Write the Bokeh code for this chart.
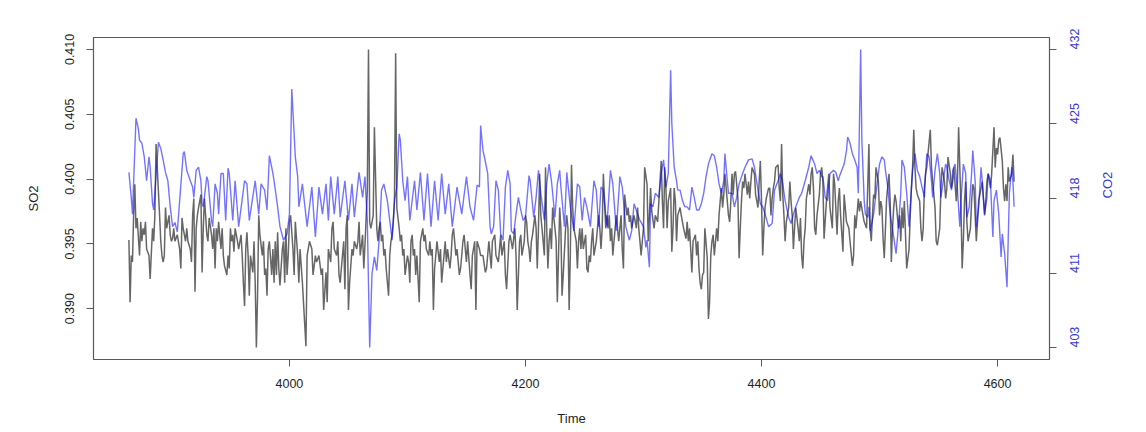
import math
import numpy as np
from bokeh.plotting import figure
from bokeh.models import Range1d, LinearAxis, FixedTicker, PrintfTickFormatter
from bokeh.embed import file_html
from bokeh.resources import INLINE

# ---- data: (time, value) ----
time_ticks = [4000, 4200, 4400, 4600]
so2_ticks = [0.390, 0.395, 0.400, 0.405, 0.410]

co2_obs = [
    (3864, 420.2), (3866, 417.8), (3867, 416.2), (3870, 425.4), (3872, 424.4), (3873, 423.3),
    (3875, 423.0), (3877, 421.7), (3879, 419.4), (3881, 421.7), (3882, 420.7), (3884, 417.2),
    (3885, 416.6), (3889, 423.1), (3891, 422.5), (3893, 421.4), (3895, 420.2), (3897, 419.4),
    (3899, 416.9), (3901, 415.0), (3903, 415.4), (3905, 414.5), (3910, 422.0), (3911, 422.2),
    (3913, 420.4), (3916, 419.4), (3918, 418.8), (3919, 417.8), (3921, 420.4), (3923, 420.7),
    (3925, 419.4), (3926, 417.2), (3927, 416.9), (3930, 419.8), (3931, 419.4), (3934, 415.6),
    (3935, 415.0), (3937, 419.1), (3939, 418.2), (3940, 416.2), (3942, 420.1), (3944, 420.1),
    (3946, 415.6), (3948, 420.6), (3949, 420.1), (3952, 415.6), (3954, 419.4), (3957, 415.0),
    (3962, 419.4), (3964, 419.1), (3966, 415.6), (3971, 419.4), (3974, 416.2), (3976, 419.1),
    (3979, 418.5), (3981, 416.6), (3983, 421.8), (3986, 420.1), (3987, 419.4), (3990, 416.9),
    (3992, 415.0), (3995, 413.7), (3998, 414.3), (4000, 416.2), (4002, 428.2), (4005, 421.7),
    (4007, 419.8), (4008, 416.9), (4011, 419.1), (4015, 415.0), (4019, 418.8), (4022, 414.0),
    (4025, 418.8), (4028, 416.2), (4031, 419.1), (4033, 415.6), (4035, 419.8), (4038, 416.2),
    (4041, 419.8), (4043, 415.9), (4047, 419.4), (4050, 415.6), (4053, 419.1), (4055, 415.9),
    (4059, 420.2), (4062, 417.8), (4064, 419.8), (4066, 415.6), (4068, 403.4), (4070, 410.5),
    (4072, 412.1), (4074, 410.8), (4076, 413.7), (4078, 418.5), (4080, 419.1), (4083, 417.5),
    (4085, 415.6), (4087, 413.7), (4089, 417.5), (4091, 418.8), (4093, 423.9), (4094, 423.3),
    (4096, 419.4), (4098, 417.5), (4100, 419.8), (4102, 415.6), (4106, 419.4), (4108, 416.6),
    (4111, 420.2), (4114, 415.6), (4117, 420.1), (4120, 415.0), (4123, 419.4), (4126, 415.6),
    (4129, 420.1), (4132, 416.2), (4135, 419.1), (4138, 415.0), (4142, 418.8), (4146, 416.2),
    (4150, 419.8), (4153, 416.9), (4156, 415.6), (4159, 419.0), (4161, 418.8), (4162, 424.7),
    (4164, 422.3), (4165, 421.8), (4168, 420.1), (4170, 415.0), (4171, 414.3), (4173, 415.0),
    (4175, 419.4), (4177, 418.5), (4179, 414.3), (4181, 413.7), (4183, 418.8), (4185, 420.4),
    (4187, 419.1), (4188, 414.6), (4190, 414.3), (4192, 416.2), (4194, 417.8), (4196, 416.6),
    (4198, 415.6), (4200, 415.9), (4203, 419.9), (4204, 419.4), (4207, 415.9), (4209, 417.8),
    (4211, 420.4), (4213, 418.2), (4216, 415.6), (4218, 419.1), (4220, 421.0), (4222, 419.4),
    (4225, 415.9), (4227, 419.1), (4229, 420.4), (4230, 418.8), (4233, 415.0), (4235, 420.2),
    (4238, 416.9), (4241, 414.6), (4244, 419.1), (4246, 418.8), (4248, 415.6), (4250, 417.8),
    (4252, 416.9), (4255, 415.0), (4258, 419.4), (4260, 418.5), (4262, 415.0), (4264, 418.8),
    (4266, 418.5), (4269, 415.0), (4272, 420.4), (4274, 419.1), (4277, 414.6), (4280, 419.8),
    (4282, 418.8), (4285, 415.0), (4288, 413.7), (4290, 414.6), (4292, 417.2), (4295, 416.2),
    (4297, 415.6), (4300, 415.0), (4302, 413.0), (4303, 413.7), (4305, 411.1), (4306, 417.2),
    (4308, 416.9), (4310, 418.2), (4313, 417.8), (4315, 420.1), (4317, 421.4), (4319, 418.8),
    (4321, 420.1), (4323, 430.0), (4324, 424.9), (4326, 420.7), (4328, 419.4), (4329, 418.5),
    (4331, 418.5), (4333, 417.5), (4335, 416.9), (4337, 416.9), (4339, 416.6), (4341, 418.8),
    (4343, 417.8), (4345, 416.6), (4347, 416.6), (4349, 417.2), (4351, 418.2), (4353, 419.8),
    (4355, 421.0), (4358, 422.0), (4360, 421.8), (4362, 420.7), (4364, 419.1), (4366, 418.2),
    (4368, 419.4), (4369, 422.0), (4371, 419.4), (4372, 418.2), (4375, 418.2), (4377, 416.9),
    (4379, 417.8), (4381, 419.1), (4384, 420.1), (4386, 420.7), (4389, 421.4), (4392, 421.5),
    (4394, 420.7), (4397, 418.5), (4399, 417.2), (4401, 416.9), (4403, 416.2), (4406, 415.0),
    (4409, 415.3), (4411, 418.5), (4414, 419.4), (4416, 420.1), (4418, 419.1), (4420, 417.5),
    (4423, 415.9), (4425, 415.3), (4427, 416.2), (4429, 416.9), (4432, 417.8), (4434, 418.2),
    (4437, 419.4), (4440, 420.7), (4442, 421.8), (4445, 421.0), (4447, 420.1), (4449, 420.4),
    (4451, 419.8), (4452, 419.8), (4454, 417.8), (4456, 417.5), (4458, 420.1), (4461, 420.4),
    (4463, 420.2), (4465, 419.4), (4466, 419.8), (4470, 421.0), (4472, 422.3), (4473, 423.6),
    (4475, 423.0), (4477, 422.0), (4479, 421.4), (4481, 420.7), (4482, 418.2), (4484, 432.0),
    (4485, 423.3), (4487, 417.5), (4488, 416.2), (4490, 415.9), (4491, 416.9), (4492, 414.6),
    (4495, 416.2), (4497, 418.2), (4499, 420.1), (4500, 421.0), (4502, 421.7), (4504, 421.4),
    (4505, 420.4), (4507, 418.8), (4509, 416.2), (4512, 414.0), (4514, 412.4), (4516, 415.0),
    (4518, 418.2), (4519, 421.4), (4521, 420.7), (4523, 418.2), (4525, 415.0), (4526, 416.9),
    (4528, 420.4), (4530, 422.0), (4532, 420.4), (4534, 419.8), (4536, 418.8), (4538, 417.8),
    (4539, 420.1), (4540, 422.0), (4542, 421.7), (4544, 419.4), (4545, 417.8), (4547, 420.4),
    (4549, 422.0), (4551, 420.1), (4552, 417.8), (4554, 419.4), (4556, 421.0), (4557, 420.7),
    (4559, 419.4), (4561, 418.5), (4562, 420.4), (4564, 421.0), (4566, 418.5), (4568, 415.0),
    (4569, 417.5), (4571, 421.0), (4573, 420.1), (4574, 415.9), (4576, 416.9), (4578, 420.1),
    (4579, 422.3), (4581, 419.4), (4582, 415.0), (4584, 416.9), (4586, 420.7), (4587, 419.4),
    (4589, 416.2), (4591, 417.8), (4592, 420.1), (4594, 419.4), (4596, 414.0), (4597, 417.5),
    (4599, 418.5), (4601, 416.2), (4603, 412.1), (4604, 414.3), (4606, 412.4), (4608, 409.2),
    (4609, 413.7), (4610, 418.2), (4611, 419.4), (4612, 420.7), (4613, 419.4), (4614, 416.9),
]

so2_obs = [
    (3864, 0.3953), (3865, 0.3905), (3866, 0.3941), (3867, 0.3936), (3868, 0.3972), (3869, 0.3996),
    (3870, 0.3962), (3871, 0.3970), (3873, 0.3941), (3874, 0.3967), (3875, 0.3952), (3876, 0.3962),
    (3877, 0.3957), (3878, 0.3967), (3879, 0.3946), (3881, 0.3941), (3882, 0.3923), (3884, 0.3962),
    (3885, 0.3952), (3886, 0.3972), (3887, 0.4027), (3888, 0.4009), (3890, 0.3972), (3891, 0.3952),
    (3892, 0.3941), (3893, 0.3936), (3894, 0.3941), (3895, 0.3978), (3896, 0.3962), (3898, 0.3972),
    (3899, 0.3957), (3900, 0.3952), (3901, 0.3954), (3902, 0.3962), (3903, 0.3952), (3905, 0.3957),
    (3907, 0.3946), (3908, 0.3931), (3909, 0.3970), (3910, 0.3962), (3912, 0.3952), (3913, 0.3962),
    (3914, 0.3952), (3916, 0.3946), (3917, 0.3936), (3918, 0.3972), (3919, 0.3985), (3920, 0.3913),
    (3921, 0.3962), (3922, 0.3972), (3923, 0.3978), (3925, 0.3988), (3926, 0.3928), (3927, 0.3962),
    (3928, 0.3985), (3929, 0.3972), (3930, 0.3957), (3931, 0.3952), (3932, 0.3970), (3934, 0.3957),
    (3935, 0.3946), (3936, 0.3962), (3937, 0.3931), (3938, 0.3962), (3939, 0.3952), (3940, 0.3967),
    (3942, 0.3946), (3943, 0.3962), (3944, 0.3941), (3945, 0.3933), (3947, 0.3926), (3948, 0.3941),
    (3949, 0.3931), (3950, 0.3962), (3951, 0.3952), (3952, 0.3957), (3953, 0.3944), (3954, 0.3962),
    (3956, 0.3952), (3957, 0.3946), (3959, 0.3957), (3960, 0.3941), (3961, 0.3920), (3962, 0.3902),
    (3963, 0.3946), (3964, 0.3959), (3965, 0.3941), (3966, 0.3910), (3967, 0.3941), (3969, 0.3928),
    (3970, 0.3952), (3971, 0.3920), (3972, 0.3870), (3973, 0.3910), (3974, 0.3972), (3975, 0.3957),
    (3977, 0.3941), (3978, 0.3952), (3979, 0.3926), (3980, 0.3931), (3981, 0.3910), (3982, 0.3946),
    (3983, 0.3952), (3985, 0.3926), (3986, 0.3946), (3987, 0.3920), (3988, 0.3952), (3989, 0.3926),
    (3990, 0.3959), (3991, 0.3931), (3992, 0.3918), (3994, 0.3946), (3995, 0.3952), (3996, 0.3920),
    (3997, 0.3962), (3998, 0.3926), (3999, 0.3941), (4000, 0.3967), (4001, 0.3972), (4003, 0.3946),
    (4004, 0.3926), (4005, 0.3967), (4007, 0.3941), (4008, 0.3920), (4009, 0.3946), (4011, 0.3920),
    (4014, 0.3871), (4015, 0.3941), (4017, 0.3952), (4019, 0.3946), (4020, 0.3926), (4022, 0.3941),
    (4023, 0.3936), (4025, 0.3941), (4027, 0.3926), (4028, 0.3931), (4029, 0.3899), (4031, 0.3928),
    (4032, 0.3905), (4033, 0.3946), (4035, 0.3936), (4036, 0.3962), (4037, 0.3967), (4038, 0.3946),
    (4040, 0.3941), (4041, 0.3952), (4042, 0.3926), (4043, 0.3920), (4044, 0.3931), (4046, 0.3952),
    (4047, 0.3915), (4048, 0.3962), (4049, 0.3972), (4050, 0.3899), (4051, 0.3920), (4053, 0.3946),
    (4054, 0.3941), (4055, 0.3952), (4057, 0.3946), (4058, 0.3952), (4059, 0.3967), (4060, 0.3941),
    (4062, 0.3957), (4063, 0.3931), (4064, 0.3949), (4066, 0.3991), (4067, 0.4100), (4068, 0.3967),
    (4069, 0.3962), (4071, 0.3972), (4072, 0.4040), (4074, 0.3962), (4075, 0.3952), (4076, 0.3962),
    (4077, 0.3967), (4078, 0.3952), (4079, 0.3957), (4080, 0.3941), (4081, 0.3946), (4082, 0.3931),
    (4084, 0.3910), (4085, 0.3941), (4086, 0.3952), (4087, 0.3957), (4088, 0.3967), (4089, 0.3983),
    (4090, 0.4097), (4091, 0.3978), (4093, 0.3962), (4094, 0.3952), (4095, 0.3957), (4096, 0.3941),
    (4097, 0.3946), (4098, 0.3926), (4100, 0.3941), (4101, 0.3936), (4102, 0.3920), (4103, 0.3952),
    (4104, 0.3957), (4105, 0.3941), (4106, 0.3946), (4107, 0.3926), (4108, 0.3941), (4110, 0.3905),
    (4111, 0.3952), (4112, 0.3957), (4113, 0.3962), (4114, 0.3952), (4115, 0.3957), (4116, 0.3946),
    (4118, 0.3941), (4119, 0.3952), (4120, 0.3941), (4121, 0.3946), (4122, 0.3899), (4123, 0.3931),
    (4124, 0.3941), (4125, 0.3952), (4127, 0.3936), (4128, 0.3946), (4129, 0.3920), (4130, 0.3931),
    (4131, 0.3941), (4132, 0.3952), (4133, 0.3936), (4134, 0.3946), (4136, 0.3931), (4137, 0.3941),
    (4138, 0.3957), (4139, 0.3962), (4140, 0.3952), (4141, 0.3941), (4142, 0.3946), (4144, 0.3926),
    (4145, 0.3931), (4146, 0.3941), (4147, 0.3952), (4148, 0.3957), (4149, 0.3946), (4150, 0.3936),
    (4151, 0.3952), (4153, 0.3926), (4154, 0.3915), (4155, 0.3941), (4157, 0.3952), (4158, 0.3899),
    (4159, 0.3952), (4161, 0.3946), (4162, 0.3941), (4164, 0.3941), (4166, 0.3928), (4167, 0.3931),
    (4169, 0.3952), (4171, 0.3931), (4172, 0.3952), (4174, 0.3957), (4175, 0.3941), (4177, 0.3936),
    (4178, 0.3946), (4179, 0.3957), (4180, 0.3941), (4182, 0.3952), (4183, 0.3926), (4184, 0.3915),
    (4186, 0.3952), (4187, 0.3957), (4189, 0.3946), (4191, 0.3962), (4192, 0.3941), (4193, 0.3899),
    (4195, 0.3952), (4196, 0.3957), (4197, 0.3941), (4199, 0.3952), (4200, 0.3972), (4201, 0.3967),
    (4202, 0.3952), (4203, 0.3946), (4204, 0.3936), (4205, 0.3952), (4206, 0.3957), (4208, 0.3972),
    (4209, 0.3962), (4210, 0.3931), (4211, 0.3962), (4212, 0.4004), (4213, 0.3972), (4214, 0.3962),
    (4216, 0.3941), (4217, 0.4009), (4218, 0.3962), (4219, 0.3931), (4220, 0.3952), (4221, 0.3962),
    (4222, 0.3946), (4223, 0.3978), (4225, 0.3962), (4226, 0.3952), (4227, 0.3905), (4228, 0.3941),
    (4229, 0.3978), (4230, 0.3962), (4231, 0.3910), (4232, 0.3926), (4234, 0.3962), (4235, 0.3972),
    (4236, 0.3962), (4237, 0.3899), (4238, 0.3941), (4239, 0.4011), (4240, 0.3978), (4241, 0.3962),
    (4243, 0.3952), (4244, 0.3931), (4245, 0.3952), (4246, 0.3962), (4247, 0.3946), (4248, 0.3962),
    (4249, 0.3946), (4251, 0.3957), (4252, 0.3931), (4253, 0.3928), (4254, 0.3941), (4255, 0.3936),
    (4256, 0.3952), (4257, 0.3962), (4258, 0.3941), (4260, 0.3952), (4261, 0.3962), (4262, 0.3972),
    (4263, 0.3962), (4264, 0.3946), (4265, 0.3962), (4266, 0.4004), (4268, 0.3962), (4269, 0.3972),
    (4270, 0.3962), (4271, 0.3972), (4272, 0.3952), (4273, 0.3962), (4274, 0.3941), (4275, 0.3952),
    (4277, 0.3972), (4278, 0.3962), (4279, 0.3952), (4280, 0.3962), (4281, 0.3972), (4282, 0.3946),
    (4283, 0.3931), (4284, 0.3988), (4286, 0.3972), (4287, 0.3978), (4288, 0.3967), (4289, 0.3972),
    (4290, 0.3962), (4291, 0.3967), (4292, 0.3972), (4294, 0.3962), (4295, 0.3978), (4296, 0.3962),
    (4297, 0.3952), (4298, 0.3941), (4299, 0.3952), (4300, 0.3962), (4301, 0.4009), (4303, 0.3996),
    (4304, 0.3952), (4306, 0.3993), (4307, 0.3975), (4309, 0.3962), (4310, 0.3972), (4312, 0.3967),
    (4314, 0.3998), (4315, 0.4014), (4316, 0.3983), (4317, 0.3962), (4318, 0.4009), (4319, 0.3993),
    (4320, 0.3962), (4321, 0.3983), (4323, 0.3993), (4324, 0.3944), (4325, 0.3962), (4326, 0.3993),
    (4327, 0.3983), (4328, 0.3952), (4329, 0.3972), (4331, 0.3978), (4332, 0.3972), (4333, 0.3967),
    (4334, 0.3962), (4336, 0.3954), (4337, 0.3967), (4338, 0.3952), (4339, 0.3962), (4340, 0.3946),
    (4341, 0.3928), (4342, 0.3952), (4344, 0.3957), (4345, 0.3941), (4346, 0.3952), (4347, 0.3931),
    (4348, 0.3920), (4349, 0.3915), (4350, 0.3926), (4351, 0.3928), (4352, 0.3962), (4354, 0.3939),
    (4355, 0.3892), (4356, 0.3905), (4357, 0.3941), (4358, 0.3952), (4359, 0.3957), (4360, 0.3941),
    (4362, 0.3962), (4363, 0.3952), (4364, 0.3972), (4365, 0.3983), (4366, 0.3993), (4367, 0.3978),
    (4368, 0.3988), (4369, 0.4004), (4371, 0.3983), (4372, 0.3972), (4373, 0.3967), (4374, 0.3983),
    (4375, 0.4004), (4376, 0.3988), (4377, 0.4004), (4378, 0.4006), (4380, 0.3985), (4381, 0.3939),
    (4382, 0.3962), (4383, 0.3983), (4384, 0.3998), (4385, 0.3993), (4386, 0.4004), (4388, 0.3988),
    (4389, 0.3998), (4390, 0.3985), (4391, 0.3998), (4392, 0.4009), (4394, 0.4004), (4395, 0.3988),
    (4397, 0.3978), (4398, 0.3998), (4399, 0.4014), (4400, 0.3983), (4401, 0.3941), (4402, 0.3962),
    (4403, 0.3978), (4404, 0.3985), (4406, 0.3993), (4407, 0.3993), (4408, 0.3972), (4409, 0.3985),
    (4410, 0.3993), (4411, 0.3998), (4412, 0.4009), (4414, 0.4011), (4415, 0.3993), (4416, 0.3983),
    (4417, 0.4027), (4418, 0.3988), (4419, 0.3972), (4420, 0.3952), (4421, 0.3967), (4423, 0.3978),
    (4424, 0.3998), (4425, 0.3983), (4426, 0.3972), (4427, 0.3946), (4428, 0.3962), (4429, 0.3978),
    (4431, 0.3962), (4432, 0.3952), (4433, 0.3970), (4434, 0.3941), (4435, 0.3931), (4436, 0.3952),
    (4437, 0.3962), (4438, 0.3985), (4440, 0.3996), (4441, 0.3988), (4442, 0.4004), (4443, 0.4009),
    (4444, 0.3993), (4445, 0.3962), (4446, 0.3957), (4447, 0.3972), (4449, 0.3988), (4450, 0.4004),
    (4451, 0.4009), (4452, 0.3998), (4453, 0.3954), (4455, 0.3983), (4457, 0.4004), (4458, 0.3978),
    (4460, 0.3962), (4461, 0.4004), (4462, 0.3996), (4464, 0.3957), (4465, 0.3983), (4466, 0.3993),
    (4467, 0.3972), (4469, 0.3944), (4470, 0.3988), (4472, 0.3967), (4474, 0.3962), (4475, 0.3952),
    (4477, 0.3933), (4478, 0.3941), (4479, 0.3972), (4480, 0.3962), (4482, 0.3985), (4483, 0.3975),
    (4484, 0.3983), (4486, 0.3972), (4487, 0.3967), (4489, 0.3962), (4491, 0.4027), (4492, 0.3962),
    (4493, 0.3952), (4494, 0.3972), (4495, 0.3988), (4496, 0.3985), (4497, 0.4009), (4499, 0.3998),
    (4500, 0.3972), (4501, 0.3983), (4502, 0.3978), (4503, 0.3954), (4504, 0.3939), (4505, 0.3962),
    (4506, 0.3985), (4508, 0.4004), (4509, 0.3983), (4510, 0.3936), (4511, 0.3962), (4512, 0.3978),
    (4513, 0.3988), (4514, 0.3983), (4516, 0.3962), (4517, 0.3972), (4518, 0.3952), (4519, 0.3978),
    (4520, 0.3962), (4521, 0.3983), (4522, 0.3957), (4523, 0.3931), (4525, 0.3946), (4526, 0.3972),
    (4527, 0.3993), (4528, 0.4009), (4529, 0.4038), (4530, 0.4009), (4531, 0.3993), (4532, 0.3988),
    (4534, 0.3983), (4535, 0.3962), (4536, 0.3952), (4537, 0.3962), (4538, 0.3993), (4539, 0.4004),
    (4540, 0.4009), (4541, 0.4019), (4543, 0.4038), (4544, 0.4009), (4545, 0.3998), (4546, 0.3988),
    (4547, 0.3978), (4548, 0.3952), (4549, 0.3949), (4551, 0.3962), (4552, 0.3993), (4553, 0.4009),
    (4554, 0.4004), (4555, 0.3998), (4556, 0.3985), (4557, 0.3993), (4558, 0.4017), (4560, 0.4004),
    (4561, 0.3993), (4562, 0.3998), (4563, 0.4009), (4564, 0.3996), (4565, 0.3983), (4566, 0.3998),
    (4567, 0.4040), (4569, 0.3978), (4570, 0.3931), (4571, 0.3952), (4572, 0.3983), (4573, 0.3998),
    (4574, 0.3967), (4575, 0.3952), (4577, 0.3962), (4578, 0.3983), (4579, 0.3996), (4580, 0.3993),
    (4581, 0.3972), (4582, 0.3952), (4583, 0.3967), (4584, 0.3983), (4586, 0.3993), (4587, 0.3998),
    (4588, 0.3985), (4589, 0.3972), (4590, 0.3983), (4591, 0.3998), (4592, 0.4004), (4594, 0.3993),
    (4595, 0.4004), (4596, 0.4022), (4597, 0.4040), (4598, 0.4009), (4599, 0.4024), (4600, 0.4019),
    (4601, 0.4030), (4602, 0.4032), (4604, 0.4014), (4605, 0.3993), (4606, 0.3983), (4607, 0.3996),
    (4608, 0.3983), (4609, 0.4009), (4610, 0.3998), (4612, 0.4004), (4613, 0.4019), (4614, 0.3998),
]

co2_time = [t for t, _ in co2_obs]
co2_ppm = [v for _, v in co2_obs]
so2_time = [t for t, _ in so2_obs]
so2_level = [v for _, v in so2_obs]


def r_range(lo, hi, frac=0.04):
    pad = frac * (hi - lo)
    return lo - pad, hi + pad


x_lo, x_hi = r_range(min(so2_time + co2_time), max(so2_time + co2_time))
s_lo, s_hi = r_range(min(so2_level), max(so2_level))
c_lo, c_hi = r_range(min(co2_ppm), max(co2_ppm))
co2_ticks = [float(v) for v in np.linspace(min(co2_ppm), max(co2_ppm), 5)]

FONT = "Liberation Sans"
TEXT = "#1e1e1e"
BLUE_TEXT = "#3a3ac8"
FRAME = "#5a5a5a"

p = figure(width=1146, height=432, output_backend="svg", toolbar_location=None,
           x_range=Range1d(x_lo, x_hi), y_range=Range1d(s_lo, s_hi),
           min_border_left=93, min_border_right=97, min_border_top=37, min_border_bottom=73,
           background_fill_color="white", border_fill_color="white")
p.extra_y_ranges = {"co2": Range1d(c_lo, c_hi)}
p.xgrid.visible = False
p.ygrid.visible = False
p.outline_line_color = FRAME
p.outline_line_width = 1.2
p.outline_line_alpha = 1.0

p.line(so2_time, so2_level, line_color="black", line_alpha=0.6, line_width=1.5)
p.line(co2_time, co2_ppm, y_range_name="co2", line_color="blue", line_alpha=0.55, line_width=1.4)

right = LinearAxis(y_range_name="co2", ticker=FixedTicker(ticks=co2_ticks),
                   formatter=PrintfTickFormatter(format="%.0f"), axis_label="CO2")
p.add_layout(right, "right")

left = p.yaxis[0]
left.ticker = FixedTicker(ticks=so2_ticks)
left.formatter = PrintfTickFormatter(format="%.3f")
left.axis_label = "SO2"

bottom = p.xaxis[0]
bottom.ticker = FixedTicker(ticks=time_ticks)
bottom.axis_label = "Time"


def style(ax, color, lab_standoff, title_standoff):
    ax.axis_line_color = None
    ax.major_tick_line_color = FRAME
    ax.major_tick_line_width = 1
    ax.major_tick_out = 7
    ax.major_tick_in = 0
    ax.minor_tick_line_color = None
    ax.major_label_text_font = FONT
    ax.major_label_text_font_size = "12.5px"
    ax.major_label_text_color = color
    ax.major_label_standoff = lab_standoff
    ax.axis_label_text_font = FONT
    ax.axis_label_text_font_size = "13px"
    ax.axis_label_text_font_style = "normal"
    ax.axis_label_text_color = color
    ax.axis_label_standoff = title_standoff


style(left, TEXT, 12, 22)
style(right, BLUE_TEXT, 18, 21)
style(bottom, TEXT, 12, 20)
left.major_label_orientation = "vertical"
right.major_label_orientation = math.pi / 2
try:
    right.axis_label_orientation = math.pi / 2
except Exception:
    pass

open("out.html", "w").write(file_html(p, INLINE))
